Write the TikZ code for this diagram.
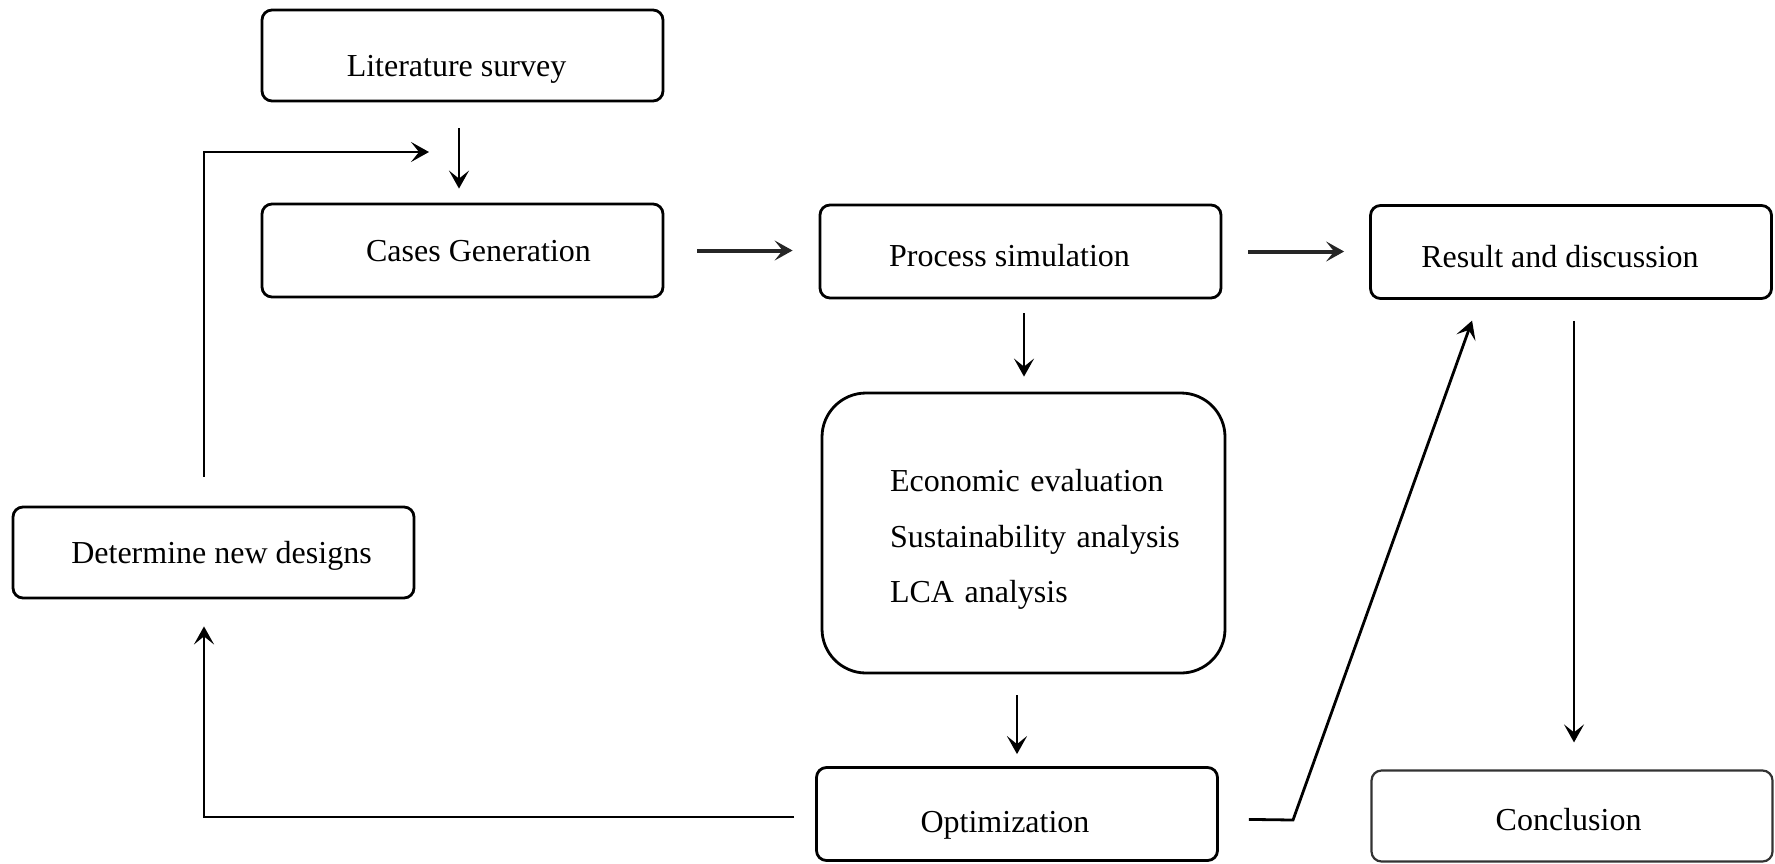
\documentclass[tikz,border=0pt]{standalone}
\usepackage{fontspec}
\setmainfont{Liberation Serif}
\usetikzlibrary{arrows.meta}
\begin{document}
\begin{tikzpicture}[x=0.5pt,y=-0.5pt,
  box/.style={draw, line width=1.4pt, rounded corners=5pt, inner sep=0pt, text depth=0pt,
    minimum width=200.5pt, minimum height=46.5pt, font=\fontsize{16}{19}\selectfont},
  tip/.style={-{Stealth[length=9pt,width=10pt,inset=4pt]}},
  conn/.style={line width=1.4pt, tip},
  thickconn/.style={line width=2pt, draw=black!85, tip},
]
\useasboundingbox (0,0) rectangle (1775,863);

% boxes
\node[box, minimum height=45.5pt, text height=20.5pt] (lit) at (462.5,55.5) {Literature survey\hspace*{6pt}};
\node[box, text height=10.5pt] (cases) at (462.5,250.5) {\hspace*{16pt}Cases Generation};
\node[box, text height=14.5pt] (proc) at (1020.5,251.5) {Process simulation\hspace*{11pt}};
\node[box, text height=15pt] (res) at (1571,252) {Result and discussion\hspace*{11pt}};
\node[box, rounded corners=22pt, minimum width=201.5pt, minimum height=140pt,
  text width=133.5pt, inner xsep=34pt, align=left, text height=17.9pt, text depth=,
  font=\fontsize{16}{27.75}\selectfont] (econ) at (1023.5,533)
  {\mbox{Economic evaluation}\\\mbox{Sustainability analysis}\\\mbox{LCA analysis}};
\node[box, minimum height=45.5pt, text height=10.5pt] (det) at (213.5,552.5) {\hspace*{8pt}Determine new designs};
\node[box, text height=18pt] (opt) at (1017,814) {Optimization\hspace*{12pt}};
\node[box, line width=1.1pt, draw=black!80, minimum height=45.5pt, text height=14pt] (conc) at (1572,816) {Conclusion\hspace*{3.4pt}};

% helper coordinates
\coordinate (fb) at (429,152);
\coordinate (kink) at (1293,820);

% connectors
\draw[conn, shorten <=13pt, shorten >=7pt] ([xshift=-1.75pt]lit.south) -- ([xshift=-1.75pt]cases.north);
\draw[conn, shorten <=14.5pt] ([xshift=-4.75pt]det.north) |- (fb);
\draw[thickconn, shorten <=16.5pt, shorten >=13pt] (cases.east) -- (cases.east -| proc.west);
\draw[thickconn, shorten <=13pt, shorten >=12.5pt] (proc.east) -- (proc.east -| res.west);
\draw[conn, shorten <=7pt, shorten >=7.5pt] ([xshift=1.75pt]proc.south) -- ([xshift=1.75pt]proc.south |- econ.north);
\draw[conn, shorten <=10.5pt, shorten >=6pt] (econ.south -| opt.north) -- (opt.north);
\draw[conn, shorten <=10.5pt, shorten >=13.5pt] ([yshift=-1.5pt]opt.west) -| ([xshift=-4.75pt]det.south);
\draw[conn, shorten <=15pt, shorten >=11pt] ([yshift=-2.5pt]opt.east) -- (kink) -- ([xshift=-45.75pt]res.south);
\draw[conn, line width=1.1pt, shorten <=10.5pt, shorten >=13.5pt] ([xshift=1.5pt]res.south) -- ([xshift=1.5pt]res.south |- conc.north);
\end{tikzpicture}
\end{document}
